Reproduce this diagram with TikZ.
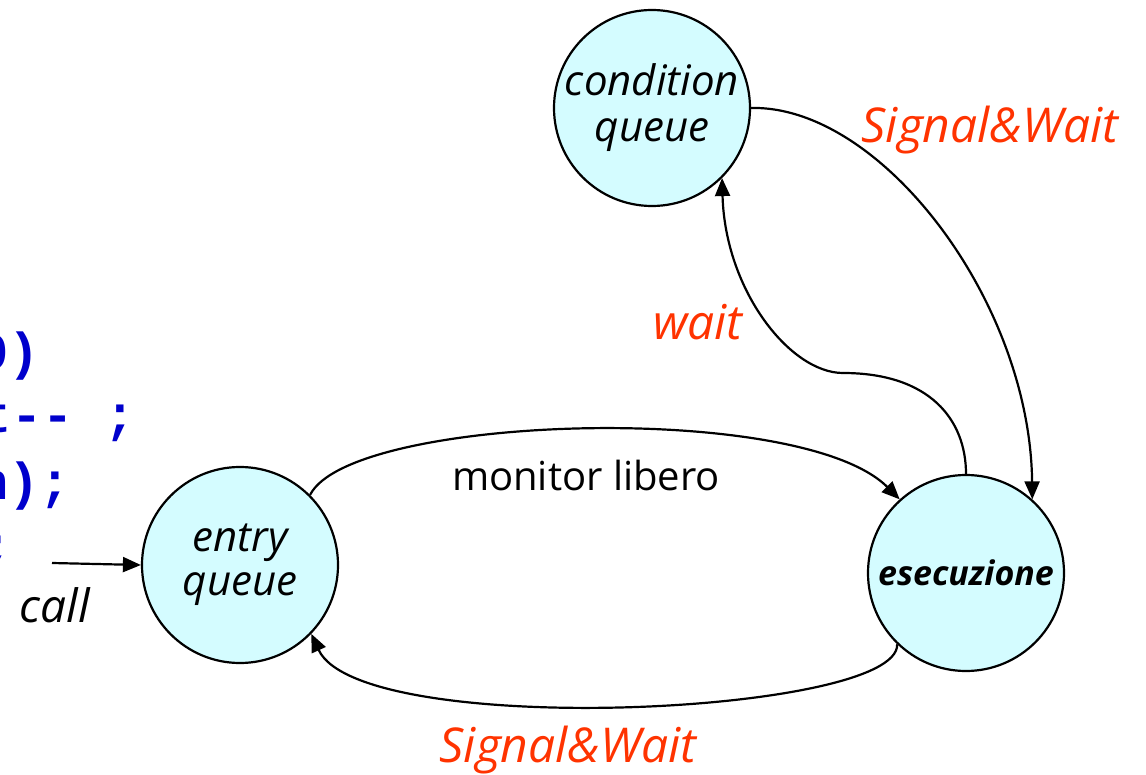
\documentclass[tikz,border=0pt]{standalone}
\usepackage{fontspec}
\setmainfont{Open Sans}
\setmonofont{Liberation Mono}
\usetikzlibrary{arrows.meta}
\definecolor{qfill}{RGB}{212,252,255}
\definecolor{lbl}{RGB}{255,51,0}
\definecolor{codeblue}{RGB}{0,0,204}

\begin{document}
\begin{tikzpicture}[x=1pt,y=-1pt,
  queue/.style={circle,draw,line width=2.2pt,fill=qfill,minimum size=196pt,
    inner sep=0pt,align=center,font=\fontsize{42}{50}\selectfont\itshape},
  flow/.style={line width=2.2pt,-{Triangle[length=18pt,width=15pt]}},
  redlabel/.style={text=lbl,anchor=base,font=\fontsize{48}{56}\selectfont\itshape},
  blacklabel/.style={anchor=base,font=\fontsize{40}{48}\selectfont},
  codeline/.style={text=codeblue,anchor=base west,inner sep=0pt,
    font=\fontsize{52}{60}\selectfont\ttfamily\bfseries}]
\useasboundingbox (0,0) rectangle (1146,775);
\clip (0,0) rectangle (1146,775);

% tail of the code listing on the left
\node[codeline] (c1) at (-22.8,370) {0)};
\node[codeline] (c2) at (-20,432) {t-- ;};
\node[codeline] (c3) at (-22.8,499) {n);};
\node[codeline] (c4) at (-19,563) {;};

% queues
\node[queue] (cq) at (652,108) {condition\\[-4pt]queue};
\node[queue] (eq) at (240,565) {entry\\[-6pt]queue};
\node[queue,font=\fontsize{34}{40}\selectfont\bfseries\itshape] (ex) at (966,573) {esecuzione};

% incoming call
\coordinate (callstart) at (52,563);
\draw[flow] (callstart) -- (eq.west);
\node[blacklabel,font=\fontsize{46}{54}\selectfont\itshape] (lcall) at (55,622) {call};

% monitor free: entry -> execution
\draw[flow] (eq.45) .. controls (350,415) and (800,400) .. (ex.132);
\node[blacklabel] (lfree) at (586,490) {monitor libero};

% signal & wait: execution -> entry
\draw[flow] (ex.226) .. controls (900,715) and (360,740) .. (eq.316);
\node[redlabel] (lsw1) at (568,762) {Signal\&Wait};

% wait: execution -> condition queue
\coordinate (wbend) at (843,373);
\draw[line width=2.2pt] (ex.north) .. controls (966,420) and (930,373) .. (wbend);
\draw[flow] (wbend) .. controls (790,373) and (725,290) .. (cq.-45);
\node[redlabel] (lwait) at (698,340) {wait};

% signal & wait: condition queue -> execution
\draw[flow] (cq.east) .. controls (880,105) and (1030,300) .. (ex.48);
\node[redlabel] (lsw2) at (990,143) {Signal\&Wait};
\end{tikzpicture}
\end{document}
